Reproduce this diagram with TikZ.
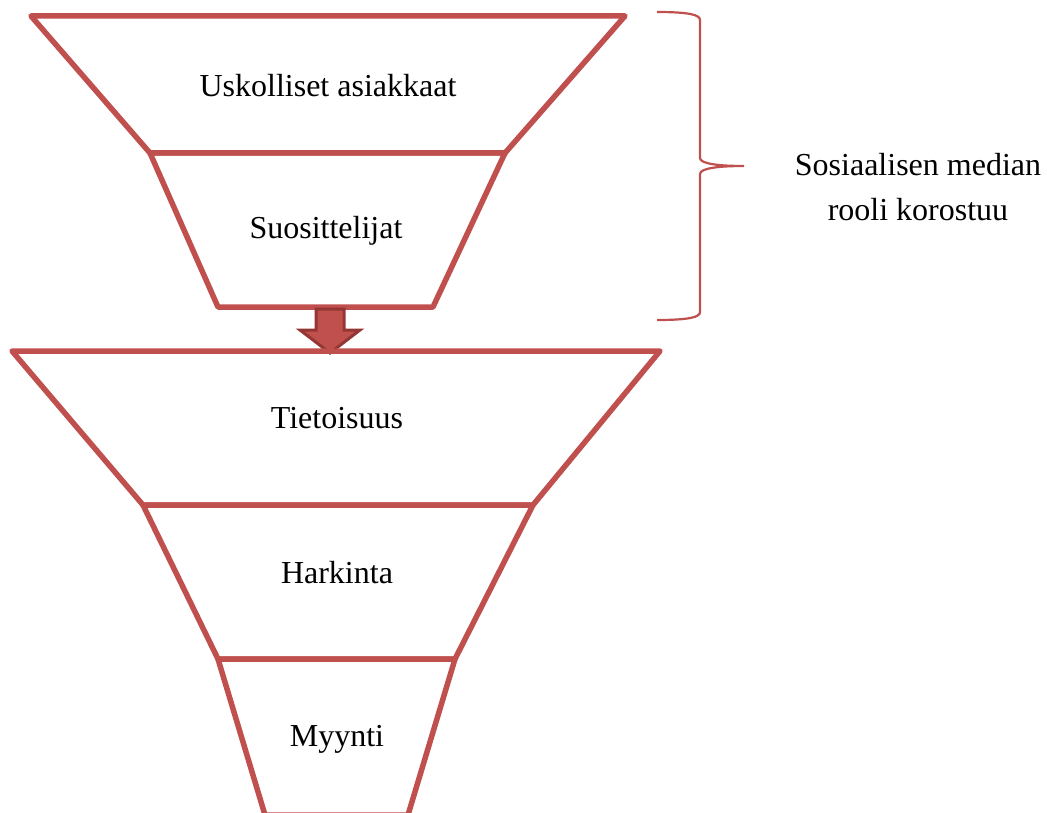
\documentclass[tikz,border=0pt]{standalone}
\usepackage{fontspec}
\setmainfont{Liberation Serif}
\definecolor{funnel}{HTML}{C0504D}
\definecolor{funneldark}{HTML}{943634}
\begin{document}
\begin{tikzpicture}[x=1pt,y=-1pt,
  seg/.style={draw=funnel,line width=5.5pt,line join=round},
  lbl/.style={font=\fontsize{32}{45}\selectfont,text=black,align=center},
  brace/.style={draw=funnel,line width=2.2pt},
  flow/.style={fill=funnel,draw=funneldark,line width=3pt,line join=miter}]
\useasboundingbox (0,0) rectangle (1047,813);
% upper funnel
\draw[seg] (31,16) -- (625,16) -- (505,153) -- (150,153) -- cycle;
\draw[seg] (150,153) -- (505,153) -- (433,307) -- (218,307) -- cycle;
% arrow
\draw[flow] (316,309) -- (344,309) -- (344,330) -- (360,330) -- (330,353) -- (300,330) -- (316,330) -- cycle;
% lower funnel
\draw[seg] (12,351) -- (660,351) -- (533,505) -- (143,505) -- cycle;
\draw[seg] (143,505) -- (533,505) -- (455,659) -- (218,659) -- cycle;
\draw[seg] (218,659) -- (455,659) -- (408,815) -- (265,815) -- cycle;
% labels
\node[lbl] (n1) at (328,86) {Uskolliset asiakkaat};
\node[lbl] (n2) at (326,231) {Suosittelijat};
\node[lbl] (n3) at (337,418) {Tietoisuus};
\node[lbl] (n4) at (337,573) {Harkinta};
\node[lbl] (n5) at (337,739) {Myynti};
% brace
\coordinate (bt) at (657,12);
\coordinate (bb) at (657,320);
\coordinate (tip) at (744,166);
\draw[brace] (bt) .. controls (690,12) and (700,15) .. (700,20) -- (700,158)
  .. controls (700,164) and (720,166) .. (tip)
  .. controls (720,166) and (700,168) .. (700,174) -- (700,312)
  .. controls (700,317) and (690,320) .. (bb);
\node[lbl,anchor=center] (side) at (918,187) {Sosiaalisen median\\rooli korostuu};
\end{tikzpicture}
\end{document}
